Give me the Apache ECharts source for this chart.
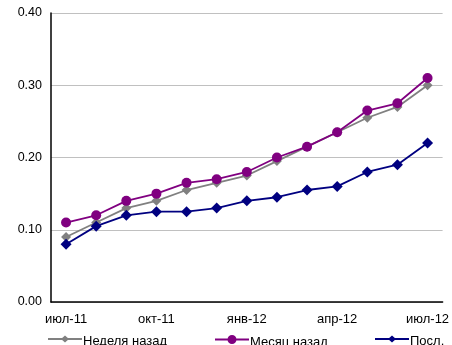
<!DOCTYPE html>
<html>
<head>
<meta charset="utf-8">
<script src="https://cdn.jsdelivr.net/npm/echarts@6/dist/echarts.min.js"></script>
<style>
  html, body { margin: 0; padding: 0; background: #fff; }
  #chart { width: 452px; height: 345px; }
</style>
</head>
<body>
<div id="chart"></div>
<script>
// Monthly observations, July 2011 through July 2012
const months = ['июл-11','авг-11','сен-11','окт-11','ноя-11','дек-11','янв-12','фев-12','мар-12','апр-12','май-12','июн-12','июл-12'];
const weekAgo  = [0.090, 0.110, 0.130, 0.140, 0.155, 0.165, 0.175, 0.195, 0.215, 0.235, 0.255, 0.270, 0.300];
const monthAgo = [0.110, 0.120, 0.140, 0.150, 0.165, 0.170, 0.180, 0.200, 0.215, 0.235, 0.265, 0.275, 0.310];
const latest   = [0.080, 0.105, 0.120, 0.125, 0.125, 0.130, 0.140, 0.145, 0.155, 0.160, 0.180, 0.190, 0.220];
const yTicks = { min: 0, max: 0.4, step: 0.1 };

const font = 'Liberation Sans, Arial, sans-serif';
const chart = echarts.init(document.getElementById('chart'), null, { renderer: 'canvas' });

// Legend icons: a short line segment with the series marker in the middle (34x10 box)
const diamondIcon = 'path://M0,4.1L34,4.1L34,5.9L0,5.9Z M17,1.5L21,5L17,8.5L13,5Z';
const circleIcon  = 'path://M0,4.1L34,4.1L34,5.9L0,5.9Z M17,0.5A4.5,4.5 0 1,1 17,9.5A4.5,4.5 0 1,1 17,0.5Z';

function line(name, data, color, symbol, size) {
  return {
    name, type: 'line', data,
    symbol, symbolSize: size,
    lineStyle: { color, width: 1.8 },
    itemStyle: { color },
    animation: false
  };
}

function legendAt(left, name, icon) {
  return {
    top: 335, left, padding: 0,
    itemWidth: 34, itemHeight: 10, itemGap: 0,
    formatter: n => '{t|' + n + '}',
    textStyle: {
      fontFamily: font, fontSize: 13, color: '#000', padding: [0, 0, 0, -4],
      rich: { t: { fontFamily: font, fontSize: 13, color: '#000', padding: [5, 0, 0, 0] } }
    },
    data: [{ name, icon }]
  };
}

chart.setOption({
  backgroundColor: '#fff',
  textStyle: { fontFamily: font },
  grid: { left: 51, right: 7, top: 13, bottom: 43 },
  legend: [
    legendAt(48, 'Неделя назад', diamondIcon),
    legendAt(215, 'Месяц назад', circleIcon),
    legendAt(375, 'Посл.', diamondIcon)
  ],
  xAxis: {
    type: 'category', data: months, boundaryGap: true,
    axisLine: { lineStyle: { color: '#000', width: 1.5 } },
    axisTick: { show: false },
    axisLabel: { interval: 2, color: '#000', fontSize: 13, fontFamily: font, margin: 11 }
  },
  yAxis: {
    type: 'value', min: yTicks.min, max: yTicks.max, interval: yTicks.step,
    axisLine: { show: true, lineStyle: { color: '#000', width: 1.5 } },
    axisTick: { show: false },
    axisLabel: { color: '#000', fontSize: 12.5, fontFamily: font, margin: 9,
                 formatter: v => v.toFixed(2) },
    splitLine: { lineStyle: { color: '#c0c0c0', width: 1 } }
  },
  series: [
    line('Неделя назад', weekAgo, '#808080', 'diamond', 10),
    line('Месяц назад', monthAgo, '#800080', 'circle', 10),
    line('Посл.', latest, '#000080', 'diamond', 11)
  ]
});
</script>
</body>
</html>
